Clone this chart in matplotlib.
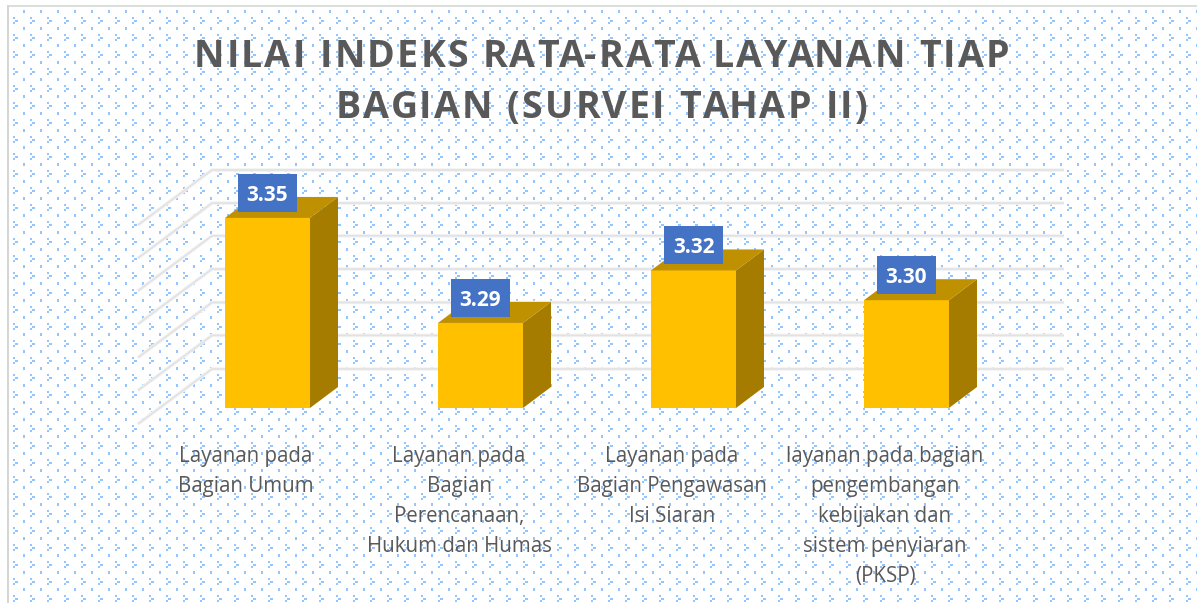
import numpy as np
import matplotlib
matplotlib.use("Agg")
import matplotlib.pyplot as plt
from matplotlib.patches import Rectangle
from matplotlib.text import Text
from matplotlib.transforms import IdentityTransform

WIDTH, HEIGHT = 1197, 603

title = "NILAI INDEKS RATA-RATA LAYANAN TIAP\nBAGIAN (SURVEI TAHAP II)"
categories = [
    "Layanan pada\nBagian Umum",
    "Layanan pada\nBagian\nPerencanaan,\nHukum dan Humas",
    "Layanan pada\nBagian Pengawasan\nIsi Siaran",
    "layanan pada bagian\npengembangan\nkebijakan dan\nsistem penyiaran\n(PKSP)",
]
values = [3.35, 3.29, 3.32, 3.303]
grid_values = [3.2637, 3.2829, 3.3017, 3.3208, 3.3398, 3.3585, 3.3774]
base_value = 3.2414

# scale of the picture: pixels for one category step and for one index unit
PX_X = 213.0
PX_Y = 1750.0
DEPTH_X = 28 / PX_X
DEPTH_Y = 21 / PX_Y
BAR_W = 85 / PX_X


class SpacedText(Text):
    """Centred multi-line text with extra pixels between the letters."""

    def __init__(self, x, y, text, spacing, line_step, **kwargs):
        super().__init__(x, y, text, ha="center", va="baseline", **kwargs)
        self.spacing = spacing
        self.line_step = line_step

    def draw(self, renderer):
        x, y = self.get_position()
        prop = self.get_fontproperties()
        lines = self.get_text().split("\n")
        for n, line in enumerate(lines):
            base = y + (len(lines) - 1 - n) * self.line_step
            widths = [renderer.get_text_width_height_descent(line[:i], prop, False)[0] if i else 0
                      for i in range(len(line) + 1)]
            start = x - (widths[-1] + self.spacing * (len(line) - 1)) / 2
            for i, ch in enumerate(line):
                Text(start + widths[i] + i * self.spacing, base, ch, color=self.get_color(),
                     fontproperties=prop, ha="left", va="baseline",
                     transform=IdentityTransform(), figure=self.get_figure()).draw(renderer)


def background():
    # dotted fill of the chart area, one tile every 17 px
    img = np.ones((HEIGHT, WIDTH, 3))
    blue = np.array([0.58, 0.78, 1.0])
    for top in range(0, HEIGHT + 17, 17):
        for left in range(-4, WIDTH + 17, 17):
            for dx, dy, w, h in [(0, 0, 2, 2), (2, 3, 3, 2), (0, 5, 2, 2), (10, -7, 2, 3)]:
                x0, y0 = max(left + dx, 0), max(top + dy, 0)
                x1, y1 = left + dx + w, top + dy + h
                if x1 > 0 and y1 > 0:
                    img[y0:y1, x0:x1] = blue
    img[:7, :] = 1.0
    img[:, :9] = 1.0
    img[5:7, 7:] = 0.87
    img[5:, 7:9] = 0.84
    return img


fig = plt.figure(figsize=(WIDTH / 100, HEIGHT / 100), dpi=100, facecolor="white")
fig.figimage(background(), xo=0, yo=0, origin="upper", zorder=-1)

ax = fig.add_axes([0, 0, 1, 1])
ax.set_xlim(-267.5 / PX_X, (WIDTH - 267.5) / PX_X)
ax.set_ylim(base_value - (HEIGHT - 408) / PX_Y, base_value + 408 / PX_Y)
ax.axis("off")

# back wall lines with their run down the side wall
wall_left, wall_right = -0.2606, 3.739
for g in grid_values:
    for lw, col in [(2.6, "#f3f3f3"), (1.2, "#e2e2e2")]:
        ax.plot([wall_left - 74 / PX_X, wall_left, wall_right],
                [g - 55 / PX_Y, g, g], color=col, lw=lw, zorder=1,
                solid_joinstyle="miter", solid_capstyle="butt")

xs = np.arange(len(values))
ax.bar(xs, np.array(values) - base_value, BAR_W, bottom=base_value, color="#FFC000", zorder=3)

for x, v in zip(xs, values):
    left, right = x - BAR_W / 2, x + BAR_W / 2
    ax.fill([right, right + DEPTH_X, right + DEPTH_X, right],
            [base_value, base_value + DEPTH_Y, v + DEPTH_Y, v], color="#A67C00", lw=0, zorder=3)
    ax.fill([left, right, right + DEPTH_X, left + DEPTH_X],
            [v, v, v + DEPTH_Y, v + DEPTH_Y], color="#BF9000", lw=0, zorder=3)

    # value tag
    cy = v + 25 / PX_Y
    ax.add_patch(Rectangle((x - 29.5 / PX_X, cy - 19 / PX_Y), 59 / PX_X, 38 / PX_Y,
                           facecolor="#4472C4", edgecolor="none", zorder=4))
    ax.text(x, cy, f"{v:.2f}", color="white", fontsize=15, fontweight="bold",
            family="Open Sans", ha="center", va="center_baseline", zorder=5)

for x, label in zip(xs, categories):
    ax.text(x - 21.5 / PX_X, base_value - 38 / PX_Y, label, color="#595959", fontsize=14.8,
            family="Open Sans", ha="center", va="top", linespacing=1.56, zorder=5)

fig.add_artist(SpacedText(601.5, HEIGHT - 118, title, spacing=2.25, line_step=51,
                          color="#595959", fontsize=27, fontweight="bold", family="Open Sans",
                          transform=IdentityTransform(), zorder=5))

fig.savefig("out.png", dpi=100)
